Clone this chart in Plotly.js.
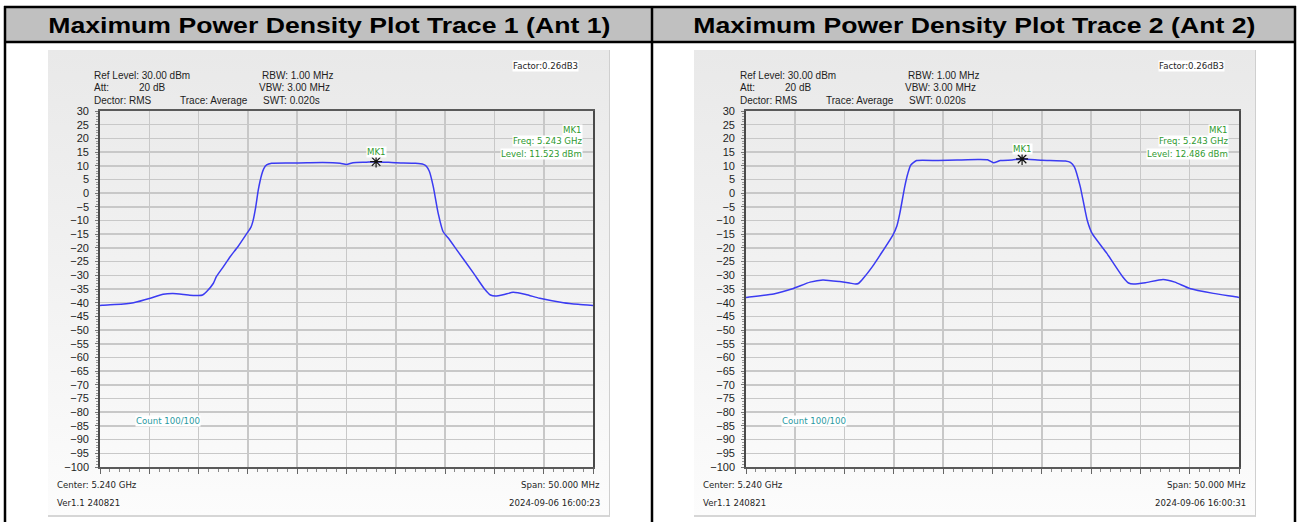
<!DOCTYPE html>
<html>
<head>
<meta charset="utf-8">
<script src="https://cdn.plot.ly/plotly-3.0.1.min.js"></script>
<style>
  html, body { margin: 0; padding: 0; background: #ffffff; }
  #wrap { position: relative; width: 1298px; height: 522px; overflow: hidden; }
  .panel { position: absolute; top: 50px; width: 561px; height: 465px;
           background: linear-gradient(to bottom, #e9e9e9 0%, #f1f1f1 45%, #fcfcfc 100%);
           border-right: 1px solid #cfcfcf; border-bottom: 2px solid #d6d6d6; }
  #chart { position: absolute; left: 0; top: 0; width: 1298px; height: 522px; }
  .hdr { position: absolute; top: 8px; height: 34px; line-height: 35px; text-align: center;
         font-family: 'Liberation Sans', Arial, sans-serif; font-weight: bold; font-size: 22px; color: #000;
         z-index: 5; white-space: nowrap; }
  .hdr span { display: inline-block; transform: scaleX(1.21); transform-origin: center; }
</style>
</head>
<body>
<div id="wrap">
  <div class="panel" style="left:48px"></div>
  <div class="panel" style="left:694px"></div>
  <div id="chart"></div>
  <div class="hdr" id="h0" style="left:6px; width:646px"></div>
  <div class="hdr" id="h1" style="left:653px; width:642px"></div>
</div>
<script>
// ---------------- data (frequency offset from 5.240 GHz centre, MHz / level dBm) -------------
const panelTitles = ["Maximum Power Density Plot Trace 1 (Ant 1)", "Maximum Power Density Plot Trace 2 (Ant 2)"];

const freq1 = [-25, -24.8, -23.5, -21.6, -19.9, -18.6, -17.6, -16.5, -15.9, -15.0, -14.6, -14.2, -13.5, -13.2, -12.5, -11.8, -11.0, -10.1, -9.7, -9.5, -9.2, -8.95, -8.6, -8.4, -8.1, -7.6, -5.7, -4.0, -2.4, -0.65, 0, 0.66, 2.0, 3.0, 5.0, 7.0, 7.8, 8.1, 8.4, 8.8, 9.3, 9.8, 10.3, 11.2, 12.9, 14.0, 14.6, 15.1, 16.0, 16.9, 18.2, 19.6, 22.0, 23.5, 25];
const level1 = [-41.0, -40.9, -40.7, -40.0, -38.4, -36.9, -36.6, -37.0, -37.3, -37.4, -37.2, -36.0, -32.9, -30.5, -26.9, -23.2, -19.5, -14.7, -12.5, -10.4, -4.9, 1.1, 6.8, 8.9, 10.3, 10.9, 11.0, 11.1, 11.2, 10.9, 10.5, 11.1, 11.3, 11.5, 11.1, 10.9, 10.5, 9.8, 8.0, 2.4, -7.4, -14.1, -16.3, -20.8, -29.3, -35.0, -37.2, -37.6, -37.0, -36.2, -37.0, -38.4, -40.0, -40.6, -41.0];

const freq2 = [-25, -24.8, -22.2, -20.2, -18.5, -17.2, -15.5, -14.5, -13.9, -13.6, -13.4, -13.1, -12.2, -11.4, -10.1, -9.7, -9.4, -8.9, -8.6, -8.3, -7.7, -5.5, -3.6, -1.5, -0.5, 0.1, 0.8, 2.0, 3.0, 5.0, 7.4, 7.9, 8.3, 8.9, 9.6, 10.1, 11.6, 13.2, 13.8, 14.3, 15.5, 17.3, 18.5, 20.0, 22.4, 24.9, 25];
const level2 = [-38.1, -38.0, -36.8, -34.8, -32.5, -31.7, -32.3, -32.8, -33.2, -33.0, -32.3, -31.1, -26.9, -22.6, -15.3, -12.0, -7.4, 2.4, 7.0, 10.2, 11.9, 11.9, 12.1, 12.3, 12.2, 11.1, 11.9, 12.1, 12.5, 12.0, 11.7, 11.2, 9.6, 2.4, -9.8, -14.7, -22.0, -30.5, -32.8, -33.2, -32.7, -31.5, -32.5, -34.8, -36.6, -38.0, -38.1];

const markerFreqMHz = [3, 3];
const markerLevel = [11.523, 12.486];
const markerFreqLabel = ["5.243 GHz", "5.243 GHz"];
const timestamps = ["2024-09-06 16:00:23", "2024-09-06 16:00:31"];

// ---------------- layout helpers ----------------
const W = 1298, H = 522;
const px = x => x / W;
const py = y => 1 - y / H;
const PANEL_DX = 646;
const green = '#2f9a2f';
const txt = '#1e1e1e';
const infoFont = {family: 'Liberation Sans, Arial, sans-serif', size: 10, color: txt};
const tahoma = {family: 'DejaVu Sans, Verdana, sans-serif', size: 8.6, color: txt};

document.getElementById('h0').innerHTML = '<span>' + panelTitles[0] + '</span>';
document.getElementById('h1').innerHTML = '<span>' + panelTitles[1] + '</span>';

const traces = [];
const annotations = [];
const shapes = [];
const series = [[freq1, level1], [freq2, level2]];

function axisPair(i) {
  const ox = i * PANEL_DX;
  const xa = {
    domain: [px(100 + ox), px(593 + ox)], range: [-25, 25], tick0: -25, dtick: 5,
    showgrid: true, gridcolor: '#c8c8c8', gridwidth: 1.6, zeroline: false,
    showline: true, mirror: true, linecolor: '#5a5a5a', linewidth: 1.6,
    ticks: 'outside', ticklen: 5, tickcolor: '#666', tickwidth: 1, showticklabels: false,
    minor: {dtick: 1, ticks: 'outside', ticklen: 3, tickcolor: '#888', showgrid: false},
    fixedrange: true
  };
  const ya = {
    domain: [py(467), py(111)], range: [-100, 30], tick0: 0, dtick: 5,
    showgrid: true, gridcolor: '#c8c8c8', gridwidth: 1.6, zeroline: false,
    showline: true, mirror: true, linecolor: '#4a4a4a', linewidth: 1.8,
    ticks: 'outside', ticklen: 3, tickcolor: '#777', tickwidth: 1,
    ticklabelstandoff: 4,
    tickfont: {family: 'Liberation Sans, Arial, sans-serif', size: 11, color: txt},
    minor: {dtick: 1, ticks: 'outside', ticklen: 2, tickcolor: '#999', showgrid: false},
    fixedrange: true
  };
  return [xa, ya];
}

const layout = {
  width: W, height: H, margin: {l: 0, r: 0, t: 0, b: 0},
  paper_bgcolor: 'rgba(0,0,0,0)', plot_bgcolor: 'rgba(0,0,0,0)',
  showlegend: false, annotations: annotations, shapes: shapes
};

for (let i = 0; i < 2; i++) {
  const ox = i * PANEL_DX;
  const [xa, ya] = axisPair(i);
  const xk = i === 0 ? 'x' : 'x2', yk = i === 0 ? 'y' : 'y2';
  if (i === 0) { xa.anchor = 'y'; ya.anchor = 'x'; layout.xaxis = xa; layout.yaxis = ya; }
  else { xa.anchor = 'y2'; ya.anchor = 'x2'; layout.xaxis2 = xa; layout.yaxis2 = ya; }

  traces.push({
    x: series[i][0], y: series[i][1], xaxis: xk, yaxis: yk, type: 'scatter', mode: 'lines',
    line: {color: '#3b3bf2', width: 1.5, shape: 'spline', smoothing: 0.5}, hoverinfo: 'skip'
  });
  traces.push({
    x: [markerFreqMHz[i]], y: [markerLevel[i]], xaxis: xk, yaxis: yk, type: 'scatter', mode: 'markers',
    marker: {symbol: 'asterisk-open', size: 10, color: '#111', line: {color: '#111', width: 1.2}},
    hoverinfo: 'skip'
  });
  annotations.push({xref: xk, yref: yk, x: markerFreqMHz[i], y: markerLevel[i], text: 'MK1',
    showarrow: false, yanchor: 'bottom', yshift: 4, bgcolor: '#ffffff', borderpad: 0,
    font: {family: tahoma.family, size: 8.6, color: green}});

  const L = (x, y, t, font, anchor, bg) => annotations.push({
    xref: 'paper', yref: 'paper', x: px(x + ox), y: py(y), xanchor: anchor || 'left', yanchor: 'middle',
    text: t, showarrow: false, font: font, bgcolor: bg || 'rgba(0,0,0,0)', borderpad: 0
  });
  L(93, 75.5, 'Ref Level: 30.00 dBm', infoFont);
  L(93, 88, 'Att:', infoFont);
  L(138, 88, '20 dB', infoFont);
  L(93, 100, 'Dector: RMS', infoFont);
  L(179, 100, 'Trace: Average', infoFont);
  L(261, 75.5, 'RBW: 1.00 MHz', infoFont);
  L(258, 88, 'VBW: 3.00 MHz', infoFont);
  L(262, 100, 'SWT: 0.020s', infoFont);
  L(579, 65.5, 'Factor:0.26dB3', tahoma, 'right', '#ffffff');
  L(583, 130, 'MK1', {family: tahoma.family, size: 8.6, color: green}, 'right', '#ffffff');
  L(583, 141, 'Freq: ' + markerFreqLabel[i], {family: tahoma.family, size: 8.6, color: green}, 'right', '#ffffff');
  L(583, 154, 'Level: ' + markerLevel[i].toFixed(3) + ' dBm', {family: tahoma.family, size: 8.6, color: green}, 'right', '#ffffff');
  L(135, 420.5, 'Count 100/100', {family: tahoma.family, size: 8.6, color: '#2a9aa2'}, 'left', '#ffffff');
  L(56, 485, 'Center: 5.240 GHz', tahoma);
  L(56, 503, 'Ver1.1 240821', tahoma);
  L(601, 485, 'Span: 50.000 MHz', tahoma, 'right');
  L(601, 503, timestamps[i], tahoma, 'right');
}

// table header band and borders
shapes.push({type: 'rect', xref: 'paper', yref: 'paper', x0: px(5), x1: px(1295), y0: py(42), y1: py(7),
  fillcolor: '#c0c0c0', line: {width: 0}, layer: 'below'});
const hl = (y) => shapes.push({type: 'line', xref: 'paper', yref: 'paper', x0: px(4), x1: px(1296), y0: py(y), y1: py(y),
  line: {color: '#000', width: 2.5}});
const vl = (x) => shapes.push({type: 'line', xref: 'paper', yref: 'paper', x0: px(x), x1: px(x), y0: py(6), y1: 0,
  line: {color: '#000', width: 2.5}});
hl(7); hl(42); vl(5); vl(652); vl(1295);

Plotly.newPlot('chart', traces, layout, {displayModeBar: false, staticPlot: true});
</script>
</body>
</html>
